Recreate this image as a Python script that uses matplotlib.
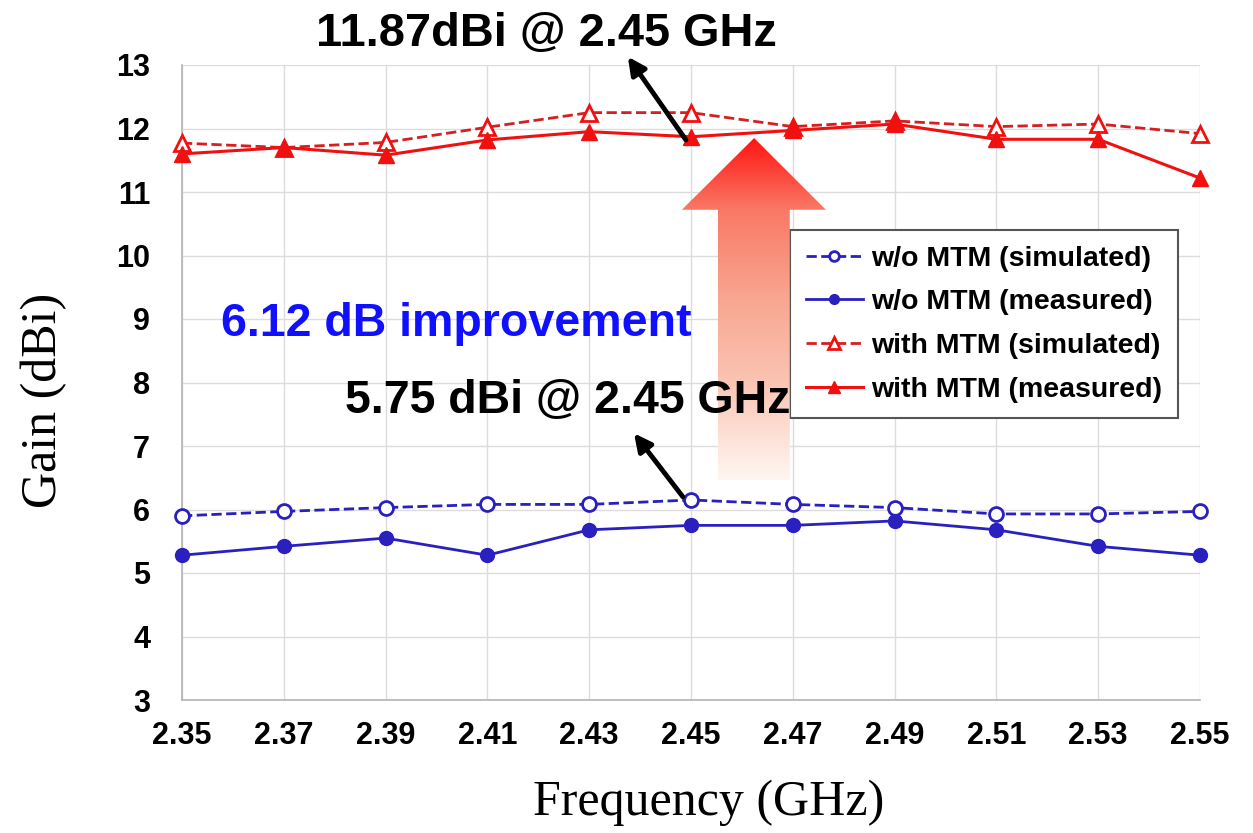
import numpy as np
import matplotlib
matplotlib.use("Agg")
import matplotlib.pyplot as plt
from matplotlib.patches import Polygon
from matplotlib.colors import LinearSegmentedColormap

# Datos
freq = [2.35, 2.37, 2.39, 2.41, 2.43, 2.45, 2.47, 2.49, 2.51, 2.53, 2.55]
wo_sim = [5.90, 5.97, 6.03, 6.08, 6.08, 6.15, 6.08, 6.03, 5.93, 5.93, 5.97]
wo_meas = [5.28, 5.42, 5.55, 5.28, 5.68, 5.75, 5.75, 5.82, 5.68, 5.42, 5.28]
with_sim = [11.77, 11.70, 11.78, 12.02, 12.25, 12.25, 12.03, 12.12, 12.03, 12.07, 11.92]
with_meas = [11.60, 11.70, 11.58, 11.82, 11.95, 11.87, 11.97, 12.07, 11.83, 11.83, 11.22]

labels = ["w/o MTM (simulated)", "w/o MTM (measured)",
          "with MTM (simulated)", "with MTM (measured)"]
xticks = [2.35, 2.37, 2.39, 2.41, 2.43, 2.45, 2.47, 2.49, 2.51, 2.53, 2.55]
yticks = list(range(3, 14))

BOLD = "Liberation Sans"
SERIF = "Liberation Serif"
BLUE = "#2a1fbf"
RED = "#f01010"

fig = plt.figure(figsize=(12.53, 8.33), dpi=100)
ax = fig.add_axes([182 / 1253, 1 - 700 / 833, 1018 / 1253, 635 / 833])

# Series
ax.plot(freq, wo_sim, "--", color=BLUE, lw=2, marker="o", ms=10,
        mfc="white", mec=BLUE, mew=2, label=labels[0], clip_on=False, zorder=4)
ax.plot(freq, wo_meas, "-", color=BLUE, lw=2, marker="o", ms=10,
        mfc=BLUE, mec=BLUE, label=labels[1], clip_on=False, zorder=4)
ax.plot(freq, with_sim, "--", color="#d42020", lw=2, marker="^", ms=12,
        mfc="white", mec=RED, mew=2, label=labels[2], clip_on=False, zorder=4)
ax.plot(freq, with_meas, "-", color=RED, lw=2.2, marker="^", ms=12,
        mfc=RED, mec=RED, label=labels[3], clip_on=False, zorder=4)

ax.set_xlim(2.35, 2.55)
ax.set_ylim(3, 13)
ax.set_xticks(xticks)
ax.set_xticklabels([f"{t:.2f}" for t in xticks], fontfamily=BOLD,
                   fontweight="bold", fontsize=22)
ax.set_yticks(yticks)
ax.set_yticklabels([str(t) for t in yticks], fontfamily=BOLD,
                   fontweight="bold", fontsize=22)
ax.tick_params(axis="both", length=0)
ax.tick_params(axis="x", pad=15)
ax.tick_params(axis="y", pad=23)
ax.grid(True, color="#dcdcdc", lw=1)
ax.set_axisbelow(True)
for s in ["top", "right"]:
    ax.spines[s].set_visible(False)
for s in ["left", "bottom"]:
    ax.spines[s].set_color("#b4b4b4")
    ax.spines[s].set_linewidth(1.2)

# Titulos de ejes
fig.text(709 / 1253, 1 - 803 / 833, "Frequency (GHz)", ha="center",
         va="center", fontfamily=SERIF, fontsize=36)
fig.text(44 / 1253, 1 - 400 / 833, "Gain (dBi)", ha="center", va="center",
         rotation=90, fontfamily=SERIF, fontsize=36)

# Leyenda
leg = ax.legend(loc="upper left", bbox_to_anchor=(790 / 1253, 1 - 230 / 833),
                bbox_transform=fig.transFigure, borderaxespad=0,
                prop={"family": BOLD, "weight": "bold", "size": 20.5},
                handlelength=2.0, handletextpad=0.3, labelspacing=0.62,
                markerscale=0.7, fancybox=False, frameon=True,
                borderpad=0.55, framealpha=1)
leg.get_frame().set_edgecolor("#555555")
leg.get_frame().set_linewidth(1.5)
leg.set_zorder(5)

# Flecha grande con degradado
x_l, x_r = 2.4553, 2.4694
hx_l, hx_r = 2.4482, 2.4765
tip_x, tip_y = 2.4624, 11.85
base_y, bot_y = 10.72, 6.46
verts = [(tip_x, tip_y), (hx_r, base_y), (x_r, base_y), (x_r, bot_y),
         (x_l, bot_y), (x_l, base_y), (hx_l, base_y)]
poly = Polygon(verts, closed=True, facecolor="none", edgecolor="none",
               transform=ax.transData)
ax.add_patch(poly)
cmap = LinearSegmentedColormap.from_list(
    "grad", [(0.0, "#fff6f2"), (0.12, "#fde2d8"), (0.29, "#fbc3b2"),
             (0.53, "#f8a690"), (0.79, "#fa7866"), (1.0, "#ff1410")])
grad = np.linspace(0, 1, 256).reshape(-1, 1)
im = ax.imshow(grad, extent=[hx_l, hx_r, bot_y, tip_y], origin="lower",
               aspect="auto", cmap=cmap, zorder=6)
im.set_clip_path(poly)
ax.set_xlim(2.35, 2.55)
ax.set_ylim(3, 13)

# Anotaciones
arrow_kw = dict(arrowstyle="-|>", color="black", lw=3.5,
                mutation_scale=26, shrinkA=0, shrinkB=0)
ax.annotate("", xy=(2.4376, 13.13), xytext=(2.449, 11.82),
            arrowprops=arrow_kw, annotation_clip=False, zorder=7)
ax.annotate("", xy=(2.4388, 7.2), xytext=(2.4484, 6.2),
            arrowprops=arrow_kw, annotation_clip=False, zorder=7)

fig.text(546 / 1253, 1 - 46 / 833, "11.87dBi @ 2.45 GHz", ha="center",
         va="baseline", fontfamily=BOLD, fontweight="bold", fontsize=33.8)
fig.text(456 / 1253, 1 - 336 / 833, "6.12 dB improvement", ha="center",
         va="baseline", fontfamily=BOLD, fontweight="bold", fontsize=33.5,
         color="#1010ff", zorder=8)
fig.text(568 / 1253, 1 - 413 / 833, "5.75 dBi @ 2.45 GHz", ha="center",
         va="baseline", fontfamily=BOLD, fontweight="bold", fontsize=33.5,
         zorder=8)

fig.savefig("out.png", dpi=100)
